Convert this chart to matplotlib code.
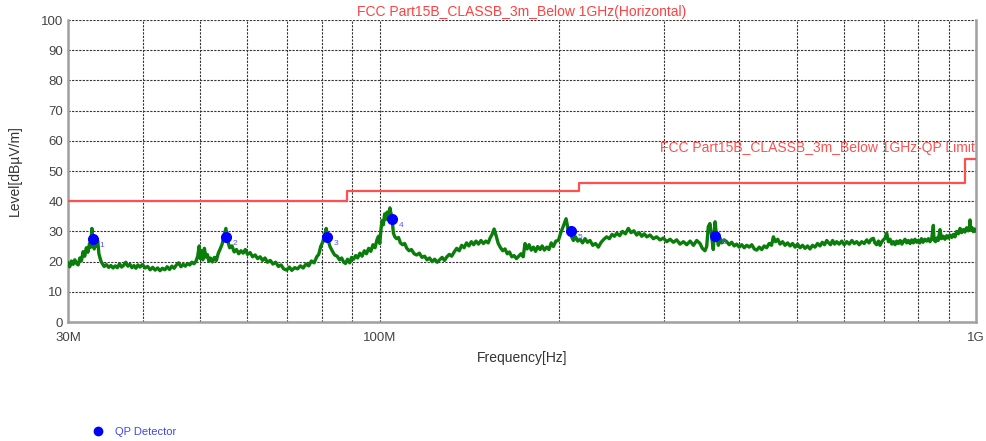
import numpy as np
import matplotlib
matplotlib.use("Agg")
import matplotlib.pyplot as plt
from matplotlib.lines import Line2D

plt.rcParams["font.family"] = ["Liberation Sans", "DejaVu Sans"]

trace_mhz = [
    30.0, 30.2, 30.4, 30.6, 30.8, 31.0, 31.2, 31.4, 31.6, 31.8, 32.0, 32.2, 32.4, 32.6, 32.75,
    32.9, 33.05, 33.2, 33.35, 33.5, 33.65, 33.8, 33.95, 34.1, 34.3, 34.5, 34.8, 35.1, 35.4, 35.7,
    36.0, 36.3, 36.6, 36.9, 37.2, 37.5, 37.8, 38.1, 38.4, 38.7, 39.0, 39.3, 39.6, 40.0, 40.4,
    40.8, 41.2, 41.6, 42.0, 42.4, 42.8, 43.2, 43.6, 44.0, 44.4, 44.8, 45.2, 45.6, 46.0, 46.4,
    46.8, 47.2, 47.6, 48.0, 48.4, 48.8, 49.2, 49.5, 49.8, 50.0, 50.2, 50.5, 50.8, 51.1, 51.4,
    51.7, 52.0, 52.4, 52.8, 53.2, 53.6, 54.0, 54.4, 54.8, 55.2, 55.6, 56.0, 56.5, 57.0, 57.5,
    58.0, 58.5, 59.0, 59.5, 60.0, 60.6, 61.2, 61.8, 62.4, 63.0, 63.6, 64.2, 64.8, 65.5, 66.2,
    66.9, 67.6, 68.3, 69.0, 69.8, 70.5, 71.2, 72.0, 72.8, 73.6, 74.4, 75.2, 76.0, 76.8, 77.6,
    78.4, 79.0, 79.6, 80.2, 80.8, 81.3, 81.8, 82.5, 83.2, 84.0, 84.8, 85.6, 86.3, 87.0, 87.6,
    88.3, 89.0, 89.7, 90.4, 91.1, 91.8, 92.6, 93.4, 94.2, 95.0, 95.8, 96.6, 97.4, 98.2, 98.9,
    99.5, 100.0, 100.5, 100.9, 101.4, 101.9, 102.4, 102.9, 103.5, 104.0, 104.5, 105.0, 105.4, 106.0, 106.7,
    107.5, 108.3, 109.2, 110.1, 111.0, 112.0, 113.0, 114.2, 115.3, 116.5, 117.7, 118.9, 120.0, 121.2, 122.4,
    123.6, 124.8, 126.0, 127.2, 128.4, 129.6, 130.8, 132.0, 133.3, 134.6, 135.9, 137.2, 138.5, 139.8, 141.1,
    142.4, 143.7, 145.0, 146.4, 147.8, 149.2, 150.6, 152.0, 153.1, 154.3, 155.5, 156.7, 158.0, 159.4, 160.8,
    162.2, 163.6, 165.0, 166.5, 168.0, 169.5, 171.0, 172.5, 174.0, 175.2, 176.6, 178.0, 179.5, 181.0, 182.5,
    184.0, 185.7, 187.2, 188.8, 190.6, 192.2, 193.9, 195.5, 197.4, 199.3, 201.2, 203.2, 205.3, 206.8, 208.5,
    210.0, 211.2, 213.0, 214.8, 216.7, 218.8, 220.9, 223.0, 225.2, 227.6, 230.0, 232.6, 235.1, 237.6, 240.2,
    242.7, 245.2, 247.5, 249.7, 252.5, 255.3, 258.2, 261.1, 263.9, 266.8, 269.7, 272.3, 275.0, 277.7, 280.4,
    284.0, 287.6, 291.3, 295.1, 299.0, 302.9, 306.8, 310.7, 314.7, 318.8, 323.0, 327.2, 331.5, 335.8, 340.0,
    344.4, 347.5, 351.0, 353.4, 355.6, 357.9, 360.0, 362.5, 365.0, 367.0, 369.7, 372.0, 374.5, 378.0, 381.8,
    385.5, 389.2, 393.0, 396.8, 400.7, 404.6, 408.5, 412.5, 416.5, 420.6, 424.7, 428.7, 432.9, 437.1, 441.3,
    445.5, 449.8, 454.0, 457.2, 461.0, 465.0, 469.1, 473.7, 478.3, 483.0, 487.7, 492.4, 497.2, 502.0, 506.8,
    511.7, 516.7, 521.7, 526.7, 531.8, 537.0, 542.2, 547.4, 552.2, 557.0, 561.8, 566.0, 570.0, 574.6, 579.2,
    583.8, 589.5, 595.3, 601.0, 607.0, 613.0, 619.0, 624.8, 630.7, 636.8, 643.0, 649.3, 655.7, 661.4, 667.0,
    672.7, 676.5, 681.3, 686.0, 690.2, 694.8, 699.4, 704.0, 708.2, 712.8, 717.5, 722.2, 727.0, 731.5, 736.1,
    741.0, 746.0, 751.0, 755.0, 760.0, 765.0, 770.0, 775.0, 780.0, 785.0, 790.0, 795.0, 800.0, 805.0, 810.0,
    815.0, 820.6, 826.4, 832.0, 837.0, 843.0, 848.0, 850.0, 855.0, 859.0, 864.0, 870.0, 875.0, 881.0, 887.0,
    893.0, 898.0, 904.0, 910.0, 916.0, 922.0, 928.0, 934.0, 940.0, 946.0, 952.0, 958.0, 964.0, 970.0, 975.0,
    977.0, 980.0, 985.0, 990.0, 995.0, 1000.0,
]
trace_db = [
    19.5, 18.3, 20.2, 19.1, 20.6, 19.4, 18.9, 21.2, 20.3, 23.3, 21.8, 24.6, 23.1, 26.0, 24.8,
    31.0, 26.5, 24.2, 27.0, 25.2, 26.8, 22.6, 21.2, 20.0, 19.2, 18.4, 19.0, 18.1, 18.7, 17.9,
    18.6, 18.0, 19.3, 18.2, 18.8, 19.8, 18.5, 19.1, 18.0, 18.7, 17.8, 18.9, 18.2, 19.0, 17.9,
    18.4, 17.3, 18.1, 17.2, 17.9, 17.0, 17.8, 17.3, 18.3, 17.4, 18.5, 17.8, 18.9, 19.6, 18.3,
    19.1, 18.5, 19.4, 18.9, 19.8, 19.3, 20.2, 21.8, 25.2, 21.0, 23.6, 20.6, 24.4, 21.5, 22.3,
    20.1, 21.2, 19.9, 21.4, 20.4, 22.8, 24.2, 25.8, 28.4, 31.0, 26.8, 24.6, 25.2, 23.2, 24.0,
    22.6, 23.6, 22.8, 24.0, 22.4, 23.0, 21.6, 22.2, 21.0, 21.6, 20.4, 21.2, 19.8, 20.4, 19.2,
    19.8, 18.4, 18.9, 17.6, 17.2, 18.2, 17.1, 18.0, 17.6, 18.6, 17.9, 19.2, 18.6, 20.2, 19.6,
    21.6, 22.4, 25.0, 26.4, 28.6, 31.0, 27.6, 25.0, 23.6, 22.2, 21.8, 20.6, 21.2, 19.8, 19.4,
    20.8, 19.6, 21.4, 20.8, 22.0, 21.2, 22.8, 21.8, 23.6, 22.6, 24.4, 23.4, 25.6, 24.6, 27.2,
    28.4, 26.0, 31.0, 33.6, 32.2, 35.8, 34.0, 36.4, 35.2, 37.8, 35.6, 33.0, 29.4, 28.2, 27.6,
    28.0, 26.2, 25.6, 26.0, 24.4, 23.6, 24.0, 22.6, 22.2, 22.8, 21.4, 21.8, 20.6, 21.2, 20.0,
    20.8, 19.8, 20.6, 21.4, 20.4, 21.6, 22.4, 21.8, 23.2, 24.4, 23.6, 25.4, 24.6, 26.2, 25.2,
    26.6, 25.6, 26.8, 25.8, 27.0, 26.0, 26.8, 26.2, 27.8, 29.0, 30.8, 28.6, 26.0, 24.6, 23.6,
    24.2, 22.6, 23.2, 21.6, 22.0, 21.0, 21.8, 22.6, 21.6, 26.0, 24.2, 25.6, 23.8, 24.8, 23.4,
    25.0, 24.0, 25.2, 23.8, 24.8, 24.0, 26.2, 25.0, 26.8, 27.0, 29.6, 31.8, 34.2, 31.0, 30.2,
    28.0, 27.0, 28.2, 26.8, 27.4, 26.2, 27.6, 26.4, 27.0, 25.4, 26.0, 24.8, 26.4, 27.4, 28.2,
    27.6, 29.0, 28.4, 29.4, 28.6, 30.0, 29.2, 31.0, 29.6, 30.2, 28.8, 29.6, 28.4, 29.2, 28.2,
    28.8, 27.6, 28.2, 27.2, 27.8, 26.6, 27.4, 26.4, 27.2, 25.8, 26.6, 25.6, 26.8, 25.4, 27.0,
    26.0, 24.4, 23.6, 25.0, 31.6, 32.6, 29.0, 24.0, 33.2, 28.6, 25.4, 27.8, 26.2, 27.2, 26.6,
    25.6, 26.4, 25.2, 25.8, 24.8, 25.6, 24.6, 25.4, 24.8, 25.6, 24.2, 23.8, 24.8, 24.0, 25.2,
    24.6, 26.0, 25.4, 28.2, 26.6, 27.4, 25.8, 26.6, 25.4, 26.2, 25.2, 26.0, 24.8, 25.8, 24.6,
    25.4, 24.4, 25.2, 24.2, 25.4, 24.8, 26.0, 25.2, 26.4, 25.6, 27.0, 26.2, 25.6, 27.0, 25.8,
    26.6, 25.8, 26.8, 25.6, 26.6, 25.8, 27.0, 26.0, 26.6, 25.6, 26.6, 26.0, 27.2, 26.2, 27.4,
    27.7, 26.2, 25.6, 26.8, 25.4, 26.6, 27.2, 27.8, 29.4, 26.6, 27.4, 25.8, 26.6, 25.6, 26.8,
    26.0, 27.0, 25.8, 26.6, 27.4, 26.2, 27.0, 26.0, 27.2, 26.2, 27.4, 26.4, 27.0, 26.2, 27.6,
    26.4, 27.4, 26.8, 27.6, 26.6, 27.8, 32.0, 27.2, 26.6, 27.8, 27.0, 30.6, 27.6, 28.4, 27.4,
    28.6, 27.8, 28.8, 28.0, 29.0, 28.2, 30.0, 29.2, 31.0, 29.6, 30.6, 29.8, 31.2, 30.2, 31.6,
    33.8, 30.4, 31.2, 29.9, 30.8, 30.2,
]

# QP limit steps
limit_edges_mhz = [30, 88, 216, 960, 1000]
limit_db = [40, 40, 43.5, 46, 54]

# QP detector readings
qp_mhz = [33.0, 55.2, 81.6, 104.7, 209.0, 365.0]
qp_db = [27.5, 28.2, 28.2, 34.1, 30.1, 28.5]
qp_ids = ["1", "2", "3", "4", "5", "6"]

fig = plt.figure(figsize=(9.87, 4.41), dpi=100)
ax = fig.add_axes([0.0689, 0.2698, 0.920, 0.6848])

ax.plot(trace_mhz, trace_db, color="#0b7d0b", lw=2.4, zorder=3)
ax.step(limit_edges_mhz, limit_db, where="pre", color="#ff5050", lw=1.6, zorder=3)
ax.plot(qp_mhz, qp_db, "o", color="#0000ff", ms=7, zorder=4)
for f, v, s in zip(qp_mhz, qp_db, qp_ids):
    ax.annotate(s, (f, v), xytext=(5, -6), textcoords="offset points",
                color="#5555ff", fontsize=6, zorder=5)

ax.set_xscale("log")
ax.set_xlim(30, 1000)
ax.set_ylim(0, 100)
ax.set_yticks(range(0, 101, 10))
ax.set_xticks([30, 100, 1000])
ax.set_xticklabels(["30M", "100M", "1G"])
ax.set_xticks([40, 50, 60, 70, 80, 90, 200, 300, 400, 500, 600, 700, 800, 900], minor=True)
ax.xaxis.set_minor_formatter(plt.NullFormatter())
ax.tick_params(which="both", length=0, labelsize=9.5, colors="#444444")
ax.tick_params(axis="x", pad=7)
ax.grid(True, which="both", color="#333333", lw=0.8, ls=(0, (2, 1.2)))

for side in ["left", "bottom", "right"]:
    ax.spines[side].set_color("#a0a0a0")
    ax.spines[side].set_linewidth(1.8)
ax.spines["top"].set_visible(False)

ax.set_xlabel("Frequency[Hz]", fontsize=10, color="#333333", labelpad=5)
ax.set_ylabel("Level[dBµV/m]", fontsize=10, color="#333333", labelpad=14)
ax.set_title("FCC Part15B_CLASSB_3m_Below 1GHz(Horizontal)", fontsize=10,
             color="#ff4040", pad=3)
ax.text(995, 57.5, "FCC Part15B_CLASSB_3m_Below 1GHz-QP Limit", ha="right",
        va="center", fontsize=10, color="#ff5050", zorder=5)

qp_handle = Line2D([], [], ls="none", marker="o", color="#0000ff", ms=6)
fig.legend([qp_handle], ["QP Detector"], loc="center left",
           bbox_to_anchor=(0.078, 0.02), frameon=False, fontsize=8,
           labelcolor="#4444ee", handletextpad=0.5)

fig.savefig("out.png", dpi=100)
